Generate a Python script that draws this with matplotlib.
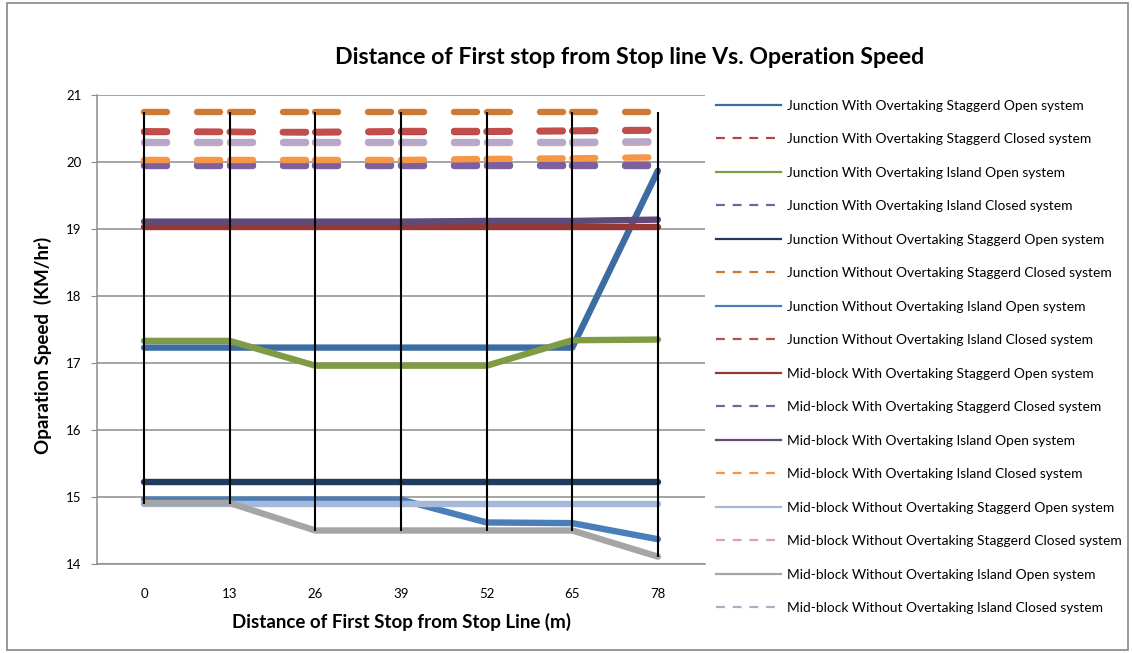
import matplotlib
matplotlib.use("Agg")
import matplotlib.pyplot as plt
from matplotlib.lines import Line2D
from matplotlib.patches import Rectangle
import numpy as np

plt.rcParams['font.family'] = ['Lato', 'DejaVu Sans']

categories = ["0", "13", "26", "39", "52", "65", "78"]

series_names = [
    "Junction With Overtaking Staggerd Open system",
    "Junction With Overtaking Staggerd Closed system",
    "Junction With Overtaking Island Open system",
    "Junction With Overtaking Island Closed system",
    "Junction Without Overtaking Staggerd Open system",
    "Junction Without Overtaking Staggerd Closed system",
    "Junction Without Overtaking Island Open system",
    "Junction Without Overtaking Island Closed system",
    "Mid-block With Overtaking Staggerd Open system",
    "Mid-block With Overtaking Staggerd Closed system",
    "Mid-block With Overtaking Island Open system",
    "Mid-block With Overtaking Island Closed system",
    "Mid-block Without Overtaking Staggerd Open system",
    "Mid-block Without Overtaking Staggerd Closed system",
    "Mid-block Without Overtaking Island Open system",
    "Mid-block Without Overtaking Island Closed system",
]

j_wo_stag_open   = [17.23, 17.23, 17.23, 17.23, 17.23, 17.23, 19.87]
j_wo_stag_closed = [20.45, 20.45, 20.44, 20.45, 20.45, 20.46, 20.47]
j_wo_isl_open    = [17.33, 17.33, 16.96, 16.96, 16.96, 17.34, 17.35]
j_wo_isl_closed  = [19.94, 19.94, 19.94, 19.94, 19.94, 19.94, 19.94]
j_nwo_stag_open  = [15.22, 15.22, 15.22, 15.22, 15.22, 15.22, 15.22]
j_nwo_stag_closed= [20.75, 20.75, 20.75, 20.75, 20.75, 20.75, 20.75]
j_nwo_isl_open   = [14.96, 14.96, 14.96, 14.96, 14.62, 14.61, 14.37]
j_nwo_isl_closed = [20.46, 20.45, 20.45, 20.46, 20.46, 20.47, 20.48]
m_wo_stag_open   = [19.03, 19.03, 19.03, 19.03, 19.03, 19.03, 19.03]
m_wo_stag_closed = [19.95, 19.95, 19.95, 19.95, 19.95, 19.95, 19.95]
m_wo_isl_open    = [19.11, 19.11, 19.11, 19.11, 19.12, 19.12, 19.14]
m_wo_isl_closed  = [20.03, 20.03, 20.03, 20.03, 20.045, 20.055, 20.07]
m_nwo_stag_open  = [14.90, 14.90, 14.90, 14.90, 14.90, 14.90, 14.90]
m_nwo_stag_closed= [20.28, 20.28, 20.28, 20.28, 20.28, 20.28, 20.29]
m_nwo_isl_open   = [14.91, 14.91, 14.50, 14.50, 14.50, 14.50, 14.11]
m_nwo_isl_closed = [20.30, 20.30, 20.30, 20.30, 20.30, 20.30, 20.31]

values = [j_wo_stag_open, j_wo_stag_closed, j_wo_isl_open, j_wo_isl_closed,
          j_nwo_stag_open, j_nwo_stag_closed, j_nwo_isl_open, j_nwo_isl_closed,
          m_wo_stag_open, m_wo_stag_closed, m_wo_isl_open, m_wo_isl_closed,
          m_nwo_stag_open, m_nwo_stag_closed, m_nwo_isl_open, m_nwo_isl_closed]

colors = ['#3D6CA3', '#B8423F', '#7F9C45', '#7D60A0',
          '#1F3B5E', '#CD7A35', '#4A7EBB', '#C24E4B',
          '#953735', '#7D60A0', '#604A7B', '#F79646',
          '#A6B9D9', '#E0A3A1', '#A5A5A5', '#B7A8C9']
dashed = [False, True, False, True, False, True, False, True,
          False, True, False, True, False, True, False, True]

W, H = 1132, 653
fig = plt.figure(figsize=(W / 100, H / 100), dpi=100)
ax = fig.add_axes([97 / W, 1 - 564 / H, 608 / W, (564 - 95) / H])

x = np.arange(len(categories))
LW = 4.6
for vals, col, d in zip(values, colors, dashed):
    v = np.array(vals)
    if d:
        for i in range(len(x) - 1):
            ax.plot(x[i:i + 2], v[i:i + 2], color=col, lw=LW,
                    linestyle=(0, (3.6, 4.7)), dash_capstyle='round',
                    solid_capstyle='round', zorder=3)
    else:
        ax.plot(x, v, color=col, lw=LW, solid_capstyle='round',
                solid_joinstyle='round', zorder=3)

# high-low lines
allv = np.array(values)
ax.vlines(x, allv.min(axis=0), allv.max(axis=0), color='black', lw=1.5, zorder=5)

ax.set_xlim(-0.55, 6.55)
ax.set_ylim(14, 21)
ax.set_yticks(np.arange(14, 22, 1))
ax.set_xticks(x)
ax.set_xticklabels(categories)
ax.yaxis.grid(True, color='#8C8C8C', lw=1.1, zorder=0)
ax.set_axisbelow(True)
for s in ['top', 'right']:
    ax.spines[s].set_visible(False)
for s in ['left', 'bottom']:
    ax.spines[s].set_color('#8C8C8C')
    ax.spines[s].set_linewidth(1.1)
ax.tick_params(axis='y', length=4, color='#8C8C8C', labelsize=9.5, pad=7)
ax.tick_params(axis='x', length=0, labelsize=9.5, pad=17)

fig.text(43 / W, 1 - 345.5 / H, "Oparation Speed  (KM/hr)", rotation=90,
         ha='center', va='center', fontsize=13.5, fontweight='bold')
fig.text(401 / W, 1 - 622 / H, "Distance of First Stop from Stop Line (m)",
         ha='center', va='center', fontsize=13.5, fontweight='bold')

fig.text(630 / W, 1 - 58 / H, "Distance of First stop from Stop line Vs. Operation Speed",
         ha='center', va='center', fontsize=16.7, fontweight='bold')

handles = []
for name, col, d in zip(series_names, colors, dashed):
    handles.append(Line2D([0], [0], color=col, lw=1.6,
                          linestyle=(0, (4, 3.5)) if d else '-', label=name))
fig.legend(handles=handles, loc='upper left', bbox_to_anchor=(716 / W, 1 - 99.5 / H),
           frameon=False, fontsize=9.9, handlelength=4.73, handletextpad=0.44,
           labelspacing=1.565, borderaxespad=0, borderpad=0)

fig.patches.append(Rectangle((7 / W, 3 / H), (1128 - 7) / W, (650 - 3) / H,
                             transform=fig.transFigure, fill=False,
                             edgecolor='#888888', lw=1.2))

fig.savefig("out.png", dpi=100)
